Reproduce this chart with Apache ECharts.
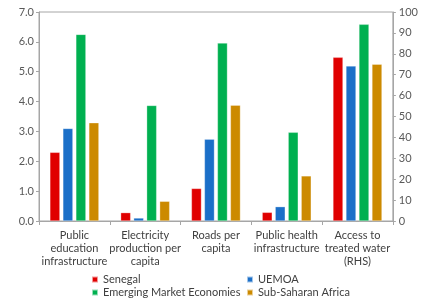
<!DOCTYPE html>
<html><head><meta charset="utf-8">
<script src="https://cdn.jsdelivr.net/npm/echarts@6/dist/echarts.min.js"></script>
<style>html,body{margin:0;padding:0;background:#fff}#c{width:421px;height:301px}</style>
</head><body><div id="c"></div>
<script>
var categories = ['Public\neducation\ninfrastructure','Electricity\nproduction per\ncapita','Roads per\ncapita','Public health\ninfrastructure','Access to\ntreated water\n(RHS)'];
var seriesNames = ['Senegal','UEMOA','Emerging Market Economies','Sub-Saharan Africa'];
// left axis values (first four categories)
var senegalLeft = [2.30, 0.28, 1.09, 0.29];
var uemoaLeft   = [3.10, 0.10, 2.74, 0.48];
var emeLeft     = [6.25, 3.87, 5.96, 2.97];
var ssaLeft     = [3.29, 0.66, 3.88, 1.51];
// right axis values (Access to treated water)
var senegalRight = 78.3;
var uemoaRight   = 74.2;
var emeRight     = 94.1;
var ssaRight     = 75.0;
var leftTicks = [0,1,2,3,4,5,6,7];
var rightTicks = [0,10,20,30,40,50,60,70,80,90,100];
var colors = ['#E00000','#1B6FC8','#00B050','#CC8A00'];

var leftData = [senegalLeft, uemoaLeft, emeLeft, ssaLeft];
var rightData = [senegalRight, uemoaRight, emeRight, ssaRight];
var font = 'Lato';
var series = [];
for (var i=0;i<4;i++){
  series.push({name:seriesNames[i], type:'bar', xAxisIndex:0, yAxisIndex:0,
    data: leftData[i].concat(['-']), barWidth:10, barGap:'30%',
    itemStyle:{color:colors[i], borderColor:'rgba(255,255,255,0.6)', borderWidth:0.5}});
}
for (var j=0;j<4;j++){
  series.push({name:seriesNames[j], type:'bar', xAxisIndex:1, yAxisIndex:1,
    data: ['-','-','-','-',rightData[j]], barWidth:10, barGap:'30%',
    itemStyle:{color:colors[j], borderColor:'rgba(255,255,255,0.6)', borderWidth:0.5}});
}
var chart = echarts.init(document.getElementById('c'), null, {renderer:'canvas'});
var legendText = {fontFamily:font, fontSize:11, color:'#404040', lineHeight:13};
function lg(name, left, top){
  return {data:[name], left:left, top:top, padding:0, itemWidth:6, itemHeight:6, itemGap:0,
    icon:'rect', textStyle:legendText, selectedMode:false};
}
chart.setOption({
  animation:false,
  color: colors,
  grid:{left:39, right:24, top:12, bottom:80, show:true, borderColor:'#A6A6A6', borderWidth:1},
  legend:[
    lg('Senegal', 91, 273),
    lg('Emerging Market Economies', 91, 286),
    lg('UEMOA', 246, 273),
    lg('Sub-Saharan Africa', 246, 286)
  ],
  xAxis:[
    {type:'category', data:categories, axisLine:{lineStyle:{color:'#A6A6A6'}},
     axisTick:{show:true, length:4, lineStyle:{color:'#A6A6A6'}},
     axisLabel:{interval:0, fontFamily:font, fontSize:11, color:'#404040', lineHeight:13, margin:8}},
    {type:'category', data:categories, show:false}
  ],
  yAxis:[
    {type:'value', min:0, max:7, interval:1, position:'left',
     axisLine:{show:true, lineStyle:{color:'#A6A6A6'}},
     axisTick:{show:true, length:3, lineStyle:{color:'#A6A6A6'}},
     splitLine:{show:false},
     axisLabel:{formatter:function(v){return v.toFixed(1);}, fontFamily:font, fontSize:11, color:'#595959', margin:5}},
    {type:'value', min:0, max:100, interval:10, position:'right',
     axisLine:{show:true, lineStyle:{color:'#A6A6A6'}},
     axisTick:{show:true, length:3, lineStyle:{color:'#A6A6A6'}},
     splitLine:{show:false},
     axisLabel:{fontFamily:font, fontSize:11, color:'#595959', margin:6}}
  ],
  series: series
});
</script></body></html>
